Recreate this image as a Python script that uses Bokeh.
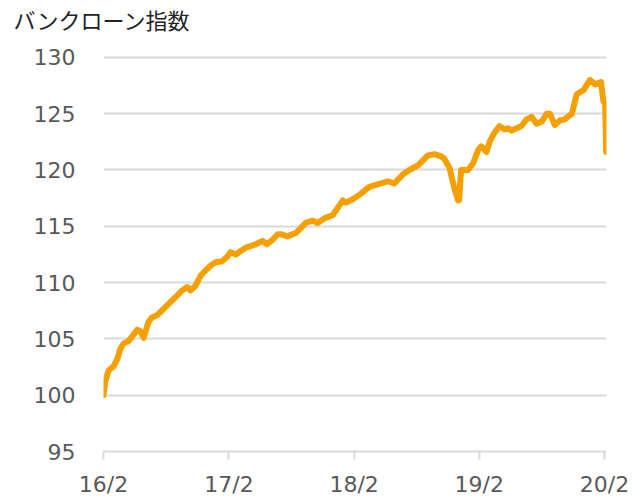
import pandas as pd
from bokeh.plotting import figure
from bokeh.models import FixedTicker, Range1d
from bokeh.embed import file_html
from bokeh.resources import INLINE

dates = [
    "2016-02-01", "2016-02-06", "2016-02-16", "2016-03-02", "2016-03-12", "2016-03-21",
    "2016-03-31", "2016-04-14", "2016-04-24", "2016-05-09", "2016-05-18", "2016-05-28",
    "2016-06-11", "2016-06-21", "2016-07-06", "2016-07-20", "2016-08-09", "2016-08-29",
    "2016-09-17", "2016-10-02", "2016-10-11", "2016-10-26", "2016-11-10", "2016-11-25",
    "2016-12-09", "2016-12-24", "2017-01-12", "2017-01-27", "2017-02-06", "2017-02-21",
    "2017-03-07", "2017-03-22", "2017-04-20", "2017-05-10", "2017-05-22", "2017-06-08",
    "2017-06-23", "2017-07-02", "2017-07-21", "2017-08-15", "2017-09-13", "2017-10-03",
    "2017-10-17", "2017-11-06", "2017-12-01", "2017-12-30", "2018-01-08", "2018-01-28",
    "2018-02-21", "2018-03-17", "2018-04-20", "2018-05-10", "2018-05-29", "2018-06-23",
    "2018-07-12", "2018-08-06", "2018-09-04", "2018-09-23", "2018-10-13", "2018-10-22",
    "2018-11-06", "2018-11-21", "2018-12-01", "2018-12-04", "2018-12-10", "2018-12-30",
    "2019-01-14", "2019-01-29", "2019-02-07", "2019-02-22", "2019-03-03", "2019-03-17",
    "2019-04-01", "2019-04-16", "2019-04-26", "2019-05-06", "2019-05-21", "2019-06-04",
    "2019-06-19", "2019-07-04", "2019-07-18", "2019-08-02", "2019-08-17", "2019-08-26",
    "2019-09-09", "2019-09-24", "2019-10-08", "2019-10-29", "2019-11-12", "2019-12-02",
    "2019-12-21", "2020-01-05", "2020-01-22", "2020-01-29", "2020-02-03", "2020-02-06",
]
index_values = [
    100.0, 101.2, 102.2, 102.6, 103.2, 104.1,
    104.6, 104.8, 105.2, 105.8, 105.7, 105.1,
    106.5, 106.9, 107.1, 107.5, 108.1, 108.7,
    109.3, 109.6, 109.3, 109.7, 110.6, 111.1,
    111.5, 111.8, 111.9, 112.3, 112.7, 112.5,
    112.8, 113.1, 113.4, 113.7, 113.4, 113.8,
    114.3, 114.3, 114.1, 114.4, 115.3, 115.5,
    115.3, 115.7, 116.0, 117.3, 117.1, 117.4,
    117.9, 118.5, 118.8, 119.0, 118.8, 119.6,
    120.0, 120.4, 121.3, 121.4, 121.2, 121.0,
    120.2, 118.3, 117.3, 117.3, 120.0, 120.0,
    120.6, 121.8, 122.1, 121.6, 122.5, 123.3,
    123.9, 123.6, 123.7, 123.5, 123.7, 123.9,
    124.5, 124.7, 124.1, 124.3, 125.0, 125.0,
    124.0, 124.4, 124.5, 125.0, 126.7, 127.1,
    128.0, 127.6, 127.8, 126.1, 125.9, 121.6,
]
tick_dates = ["2016-02-01", "2017-02-01", "2018-02-01", "2019-02-01", "2020-02-01"]
tick_labels = ["16/2", "17/2", "18/2", "19/2", "20/2"]
y_ticks = [95, 100, 105, 110, 115, 120, 125, 130]
title_text = "バンクローン指数"

start = pd.Timestamp(tick_dates[0])
xs = [(pd.Timestamp(d) - start).days for d in dates]
tx = [(pd.Timestamp(d) - start).days for d in tick_dates]

p = figure(width=640, height=499, output_backend="svg", toolbar_location=None,
           x_range=Range1d(0, tx[-1] + 6), y_range=Range1d(95, 132.03),
           min_border_left=103, min_border_right=34, min_border_top=0, min_border_bottom=46)
p.outline_line_color = None
p.background_fill_color = "white"
p.border_fill_color = "white"

p.title.text = title_text
p.title.text_font = "Noto Sans CJK JP"
p.title.text_font_size = "22px"
p.title.text_font_style = "normal"
p.title.text_color = "#222222"
p.title.align = "left"
p.title.offset = -90
p.title.standoff = 0

p.line(xs, index_values, line_color="#F5A000", line_width=6, line_join="round", line_cap="round")

p.xgrid.grid_line_color = None
p.ygrid.grid_line_color = "#d9d9d9"
p.ygrid.grid_line_width = 2
p.ygrid.ticker = FixedTicker(ticks=y_ticks)

p.yaxis.ticker = FixedTicker(ticks=y_ticks)
p.yaxis.axis_line_color = None
p.yaxis.major_tick_line_alpha = 0
p.yaxis.minor_tick_line_color = None
p.yaxis.major_tick_out = 0
p.yaxis.major_tick_in = 0
p.yaxis.major_label_standoff = 28
p.yaxis.major_label_text_font = "DejaVu Sans"
p.yaxis.major_label_text_font_size = "22px"
p.yaxis.major_label_text_color = "#595959"

p.xaxis.ticker = FixedTicker(ticks=tx)
p.xaxis.major_label_overrides = {t: l for t, l in zip(tx, tick_labels)}
p.xaxis.axis_line_color = "#d9d9d9"
p.xaxis.axis_line_width = 2
p.xaxis.major_tick_line_color = "#d9d9d9"
p.xaxis.major_tick_line_width = 2
p.xaxis.major_tick_out = 8
p.xaxis.major_tick_in = 0
p.xaxis.minor_tick_line_color = None
p.xaxis.major_label_standoff = 12
p.xaxis.major_label_text_font = "DejaVu Sans"
p.xaxis.major_label_text_font_size = "22px"
p.xaxis.major_label_text_color = "#595959"

open("out.html", "w").write(file_html(p, INLINE))
